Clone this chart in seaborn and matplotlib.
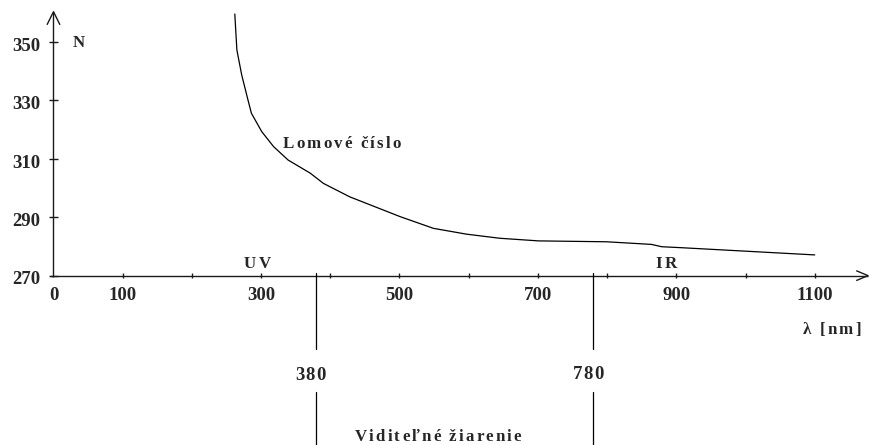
import matplotlib
matplotlib.use('Agg')
import matplotlib.pyplot as plt
import matplotlib.transforms as mtransforms
from matplotlib.font_manager import FontProperties, findfont
from matplotlib.ft2font import FT2Font
import pandas as pd
import seaborn as sns

# Refractive index N against wavelength
wavelength = [262, 265, 272, 281, 286, 301, 318, 339, 371, 390, 428, 501,
              549, 597, 645, 701, 799, 864, 879, 905, 1100]
refr_index = [359.6, 347.3, 338.7, 330.2, 325.6, 319.3, 314.2, 309.6, 305.1,
              301.6, 297.0, 290.2, 286.2, 284.2, 282.8, 281.9, 281.6, 280.7,
              279.9, 279.6, 277.1]

x_ticks = list(range(100, 1200, 100))
x_labels = [0, 100, 300, 500, 700, 900, 1100]
y_ticks = [270, 290, 310, 330, 350]
visible_band = [380, 780]

df = pd.DataFrame({'lam': wavelength, 'N': refr_index})

sns.set_theme(style='white')
SERIF = ['Liberation Serif', 'DejaVu Serif']
plt.rcParams['font.family'] = SERIF

fig = plt.figure(figsize=(8.7, 4.45), dpi=100)
ax = fig.add_axes([0, 0, 1, 1])

sns.lineplot(data=df, x='lam', y='N', color='black', lw=0.9, ax=ax)

ax.set_xlim(-77.3, 1179.9)
ax.set_ylim(212.0, 364.4)
ax.axis('off')

axis_kw = dict(color='#1a1a1a', lw=1.0, solid_capstyle='butt')

# hand drawn axes with open arrow heads
ax.plot([-5, 1177], [270, 270], **axis_kw)
ax.plot([1160, 1177, 1160], [271.7, 270, 268.3], **axis_kw)
ax.plot([0, 0], [269.6, 360.4], **axis_kw)
ax.plot([-9.4, 0, 9.4], [355.9, 360.4, 355.9], **axis_kw)

for t in x_ticks:
    ax.plot([t, t], [269.1, 270.9], **axis_kw)
for t in y_ticks:
    ax.plot([-7.2, 7.2], [t, t], **axis_kw)

# borders of the visible range
for b in visible_band:
    ax.plot([b, b], [270.9, 244.9], color='black', lw=0.9)
    ax.plot([b, b], [230.3, 211.0], color='black', lw=0.9)

# tick labels
for t in x_labels:
    ax.text(t, 261.5, str(t), ha='center', va='baseline',
            fontsize=13.5, fontweight='bold', family=SERIF)
for t in y_ticks:
    ax.text(-19.5, t - 3.0, str(t), ha='right', va='baseline',
            fontsize=13.5, fontweight='bold', family=SERIF)

# letter spaced labels, like the original
font = FT2Font(findfont(FontProperties(family='Liberation Serif', weight='bold')))


def spaced(x, y, s, size, gap, ha='left'):
    font.set_size(size, 72)
    adv = [font.load_char(ord(c)).linearHoriAdvance / 65536 for c in s]
    total = sum(adv) + gap * (len(s) - 1)
    off = -total / 2 if ha == 'center' else 0
    for c, a in zip(s, adv):
        if c != ' ':
            tr = mtransforms.offset_copy(ax.transData, fig=fig, x=off, y=0, units='points')
            ax.text(x, y, c, transform=tr, ha='left', va='baseline',
                    fontsize=size, fontweight='bold', family=SERIF)
        off += a + gap


spaced(28.2, 348.4, 'N', 12.2, 0)
spaced(331.6, 313.6, 'Lomové číslo', 12.2, 1.5)
spaced(294, 272.5, 'UV', 12.2, 2.2, ha='center')
spaced(885, 272.5, 'IR', 12.2, 2.2, ha='center')
spaced(1124.6, 250.0, 'λ [nm]', 12.2, 1.5, ha='center')
spaced(370.7, 234.1, '380', 13.5, 0.8, ha='center')
spaced(772.4, 234.5, '780', 13.5, 0.8, ha='center')
spaced(555.6, 213.2, 'Viditeľné žiarenie', 12.2, 1.5, ha='center')

fig.savefig('out.png', dpi=100)
